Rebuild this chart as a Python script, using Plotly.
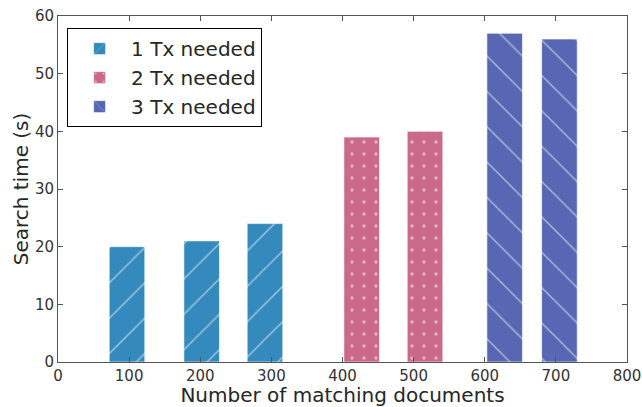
import plotly.graph_objects as go

docs_1 = [97, 202, 291]
time_1 = [20, 21, 24]
docs_2 = [427, 516]
time_2 = [39, 40]
docs_3 = [628, 705]
time_3 = [57, 56]

series = [
    ("1 Tx needed", docs_1, time_1, "#348ABD", "/"),
    ("2 Tx needed", docs_2, time_2, "#CB698B", "."),
    ("3 Tx needed", docs_3, time_3, "#5767B3", "\\"),
]

fig = go.Figure()
for name, x, y, color, shape in series:
    fig.add_trace(go.Bar(
        x=x, y=y, name=name, width=50,
        marker=dict(
            color=color,
            line=dict(color="rgba(255,255,255,0.6)", width=1),
            pattern=dict(shape=shape, fgcolor="white", bgcolor=color,
                         size=25 if shape != "." else 12,
                         solidity=0.06 if shape != "." else 0.06,
                         fillmode="overlay"),
        ),
    ))

axis_common = dict(
    showgrid=False, zeroline=False, showline=True, linecolor="#555555", linewidth=1,
    mirror="ticks", ticks="inside", ticklen=5, tickcolor="#555555",
    tickfont=dict(size=15, color="#333333"), automargin=False,
    ticklabeloverflow="allow",
)

fig.update_layout(
    width=642, height=407,
    margin=dict(l=58, r=15, t=16, b=45),
    paper_bgcolor="white", plot_bgcolor="white",
    font=dict(family="DejaVu Sans", color="#262626"),
    barmode="overlay",
    showlegend=True,
    legend=dict(x=0.016, y=0.965, xanchor="left", yanchor="top",
                bordercolor="black", borderwidth=1, bgcolor="white",
                itemwidth=53, tracegroupgap=0,
                font=dict(size=20, color="#262626")),
    xaxis=dict(range=[0, 800], dtick=100, tick0=0,
               title=dict(text="Number of matching documents", font=dict(size=20), standoff=2),
               **axis_common),
    yaxis=dict(range=[0, 60], dtick=10, tick0=0,
               title=dict(text="Search time (s)", font=dict(size=20), standoff=0),
               **axis_common),
)

fig.write_html(
    "out.html",
    config={"displayModeBar": False},
    post_script="document.body.style.margin='0';document.body.style.overflow='hidden';",
)
